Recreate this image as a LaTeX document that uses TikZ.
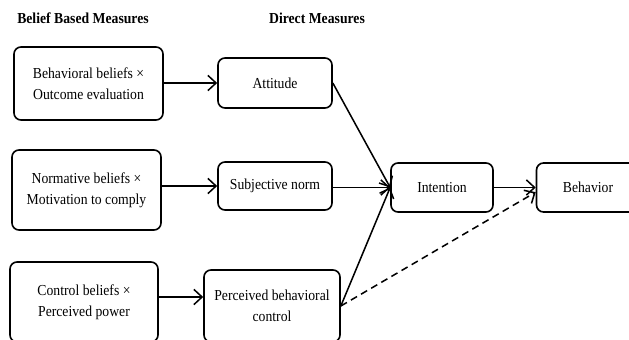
\documentclass[tikz,border=0pt]{standalone}
\usepackage{fontspec}
\setmainfont{Liberation Serif}[FakeStretch=0.9]
\usepackage{tikz}
\usetikzlibrary{positioning, arrows.meta}

\begin{document}
\begin{tikzpicture}[x=0.03cm,y=-0.03cm]
	\tikzstyle{box}=[draw=black,line width=1.4pt,rounded corners=6pt,align=center,inner sep=0pt,font=\fontsize{13}{18}\selectfont]
	\tikzstyle{head}=[font=\fontsize{13}{15}\selectfont\bfseries]
	\tikzstyle{arr}=[line width=1.3pt,-{Straight Barb[length=7pt,width=13pt,line width=1.3pt]}]
	\clip (0,0) rectangle (629,339);
	\node[head](hbelief) at (83,18) {Belief Based Measures};
	\node[head](hdirect) at (317,18) {Direct Measures};
	\node[box,minimum width=4.47cm,minimum height=2.19cm](bb) at (88.5,83.5) {Behavioral beliefs ×\\Outcome evaluation};
	\node[box,minimum width=4.47cm,minimum height=2.4cm](nb) at (86.5,190) {Normative beliefs ×\\Motivation to comply};
	\node[box,minimum width=4.44cm,minimum height=2.4cm](cb) at (84,302) {Control beliefs ×\\Perceived power};
	\node[box,minimum width=3.42cm,minimum height=1.5cm](att) at (275,83) {Attitude};
	\node[box,minimum width=3.42cm,minimum height=1.44cm](sn) at (275,186) {Subjective norm};
	\node[box,minimum width=4.08cm,minimum height=2.16cm](pbc) at (272,306) {Perceived behavioral\\control};
	\node[box,minimum width=3.06cm,minimum height=1.47cm](int) at (442,187.5) {Intention};
	\node[box,minimum width=3.09cm,minimum height=1.47cm](beh) at (588,187.5) {Behavior};
	\draw[arr](bb.east |- att) -- (att);
	\draw[arr](nb.east |- sn) -- (sn);
	\draw[arr](cb.east |- 0,297) -- (pbc.west |- 0,297);
	\draw[arr](att.east) -- (int.west);
	\draw[arr](sn.east |- int) -- (int.west);
	\draw[arr](pbc.east) -- (int.west);
	\draw[arr](int) -- (beh);
	\draw[arr,dash pattern=on 6pt off 4pt](pbc.east) -- ([yshift=-4pt]beh.west);
\end{tikzpicture}
\end{document}
